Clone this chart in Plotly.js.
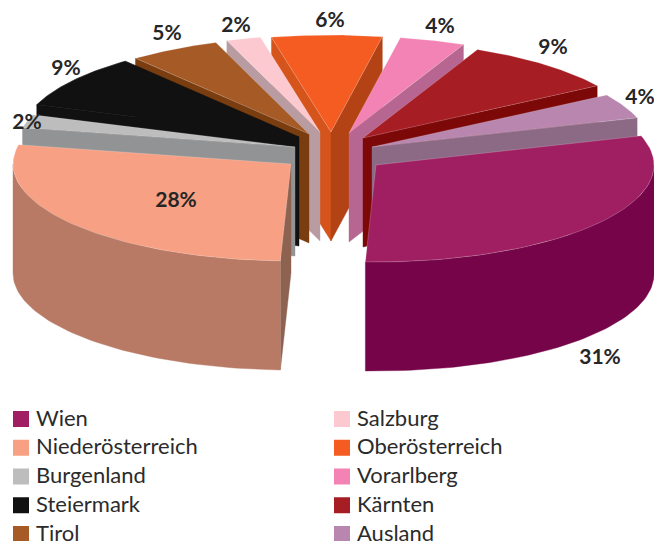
<!DOCTYPE html>
<html>
<head>
<meta charset="utf-8">
<script src="https://cdn.plot.ly/plotly-3.0.1.min.js"></script>
<style>html,body{margin:0;padding:0;background:#fff}#chart{width:654px;height:541px}</style>
</head>
<body>
<div id="chart"></div>
<script>
// --- data ---
const categories = ['Wien','Niederösterreich','Burgenland','Steiermark','Tirol','Salzburg','Oberösterreich','Vorarlberg','Kärnten','Ausland'];
const shares = [30.5,27.6,2.2,8.9,5.3,2.0,6.4,3.8,9.2,4.2];

// --- styles ---
const topColors   = ['#a01f62','#f7a083','#bdbdbd','#111111','#a65a26','#fbc9cf','#f45c22','#f383b4','#a61d24','#b886ae'];
const arcColors   = ['#750448','#b87a64','#929394','#111111','#7a3d10','#b89ca2','#b34314','#b66690','#7c0808','#8c6a85'];
const wallAColors = ['#750448','#8e6250','#929394','#111111','#7a3d10','#b89ca2','#d4541c','#b66690','#7c0808','#8c6a85'];
const wallBColors = ['#750448','#8e6250','#929394','#111111','#7a3d10','#b89ca2','#b34314','#b66690','#7c0808','#8c6a85'];

// --- projection of the exploded tilted pie (pixel space axes) ---
const CX = 334, CY = 152.6, RX = 278, RY = 97, DEPTH = 109, START = 72.5;
const pullX = [42,-43,-39,-35,-25,-14,-3,15,29,38];
const pullY = [12.4,11.4,-5.6,-15.6,-18.6,-20.6,-20.6,-19.6,-14.6,-5.6];
const drawOrder = [6,5,7,4,8,3,9,2,1,0];

const total = shares.reduce((a,b)=>a+b,0);
const rad = d => d*Math.PI/180;
let cursor = START;
const slices = shares.map((v,i)=>{
  const a = cursor, b = cursor + v/total*360;
  cursor = b;
  return {a,b,ax:CX+pullX[i],ay:CY+pullY[i]};
});
const rimX = (s,t)=> s.ax + RX*Math.sin(rad(t));
const rimY = (s,t)=> s.ay - RY*Math.cos(rad(t));

function poly(xs,ys,color,line,name){
  return {type:'scatter',mode:'lines',x:xs,y:ys,fill:'toself',fillcolor:color,
    line:{color:line||color,width:line?0.7:0.4},name:name,hoverinfo:'name',showlegend:false};
}
const traces = [];
drawOrder.forEach(i=>{
  const s = slices[i], n = categories[i];
  // radial walls: only those that face the viewer
  const walls = [];
  if(Math.sin(rad(s.a))<0) walls.push([s.a,wallAColors[i]]);
  if(Math.sin(rad(s.b))>0) walls.push([s.b,wallBColors[i]]);
  walls.forEach(([t,c])=>{
    const ex=rimX(s,t), ey=rimY(s,t);
    traces.push(poly([s.ax,ex,ex,s.ax,s.ax],[s.ay,ey,ey+DEPTH,s.ay+DEPTH,s.ay],c,null,n));
  });
  // outer wall, front-facing part
  const ts=[];
  const lo=Math.max(s.a,90), hi=Math.min(s.b,270);
  if(hi>lo){ for(let k=0;k<=60;k++) ts.push(lo+(hi-lo)*k/60);
    const xs=ts.map(t=>rimX(s,t)), yt=ts.map(t=>rimY(s,t)), yb=yt.map(y=>y+DEPTH);
    traces.push(poly(xs.concat(xs.slice().reverse()),yt.concat(yb.reverse()),arcColors[i],null,n));
  }
  // top surface
  const xs=[s.ax], ys=[s.ay];
  for(let k=0;k<=60;k++){const t=s.a+(s.b-s.a)*k/60; xs.push(rimX(s,t)); ys.push(rimY(s,t));}
  xs.push(s.ax); ys.push(s.ay);
  traces.push(poly(xs,ys,topColors[i],i===3?'#111111':'rgba(255,255,255,0.28)',n));
});

// --- percent labels ---
const labelX = [600,176,27,66,167,236,330,440,553,640];
const labelY = [359,202,124,70,35,27,22,28,49,99];
traces.push({type:'scatter',mode:'text',x:labelX,y:labelY,
  text:shares.map(v=>Math.round(v)+'%'),textposition:'middle center',
  textfont:{family:'Lato, "Open Sans", sans-serif',size:21,color:'#262626',weight:700},
  hoverinfo:'skip',showlegend:false,cliponaxis:false});

// --- legend ---
const ROW0=419, ROWH=28.75, COL=[21,342], TEXT_DY=1;
const lx=categories.map((c,i)=>COL[i<5?0:1]), ly=categories.map((c,i)=>ROW0+(i%5)*ROWH);
traces.push({type:'scatter',mode:'markers',x:lx,y:ly,
  marker:{symbol:'square',size:16,color:topColors,line:{width:0}},hoverinfo:'skip',showlegend:false,cliponaxis:false});
traces.push({type:'scatter',mode:'text',x:lx.map(v=>v+15),y:ly.map(v=>v+TEXT_DY),text:categories,
  textposition:'middle right',
  textfont:{family:'Lato, "Open Sans", sans-serif',size:22,color:'#2b2b2b'},
  hoverinfo:'skip',showlegend:false,cliponaxis:false});

const layout = {
  width:654,height:541,margin:{l:0,r:0,t:0,b:0},
  paper_bgcolor:'#ffffff',plot_bgcolor:'#ffffff',showlegend:false,
  xaxis:{range:[0,654],visible:false,fixedrange:true},
  yaxis:{range:[541,0],visible:false,fixedrange:true}
};
Plotly.newPlot('chart',traces,layout,{displayModeBar:false,staticPlot:true});
</script>
</body>
</html>
